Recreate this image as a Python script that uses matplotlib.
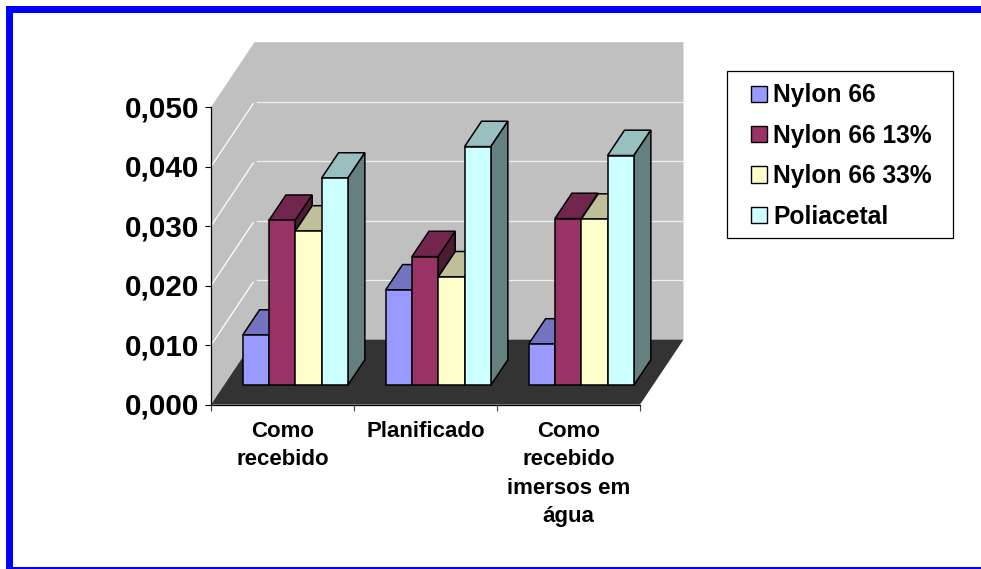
import matplotlib
matplotlib.use('Agg')
import matplotlib.pyplot as plt
from matplotlib.patches import Polygon, Rectangle, Patch
from matplotlib.ticker import FuncFormatter
from matplotlib.transforms import ScaledTranslation

W, H = 981, 569

categorias = ['Como\nrecebido', 'Planificado', 'Como\nrecebido\nimersos em\nágua']
nylon66 = [0.0084, 0.0160, 0.0069]
nylon66_13 = [0.0277, 0.0216, 0.0280]
nylon66_33 = [0.0259, 0.0182, 0.0279]
poliacetal = [0.0348, 0.0401, 0.0386]
series = [nylon66, nylon66_13, nylon66_33, poliacetal]
nomes = ['Nylon 66', 'Nylon 66 13%', 'Nylon 66 33%', 'Poliacetal']
cores = ['#9999FF', '#993366', '#FFFFCC', '#CCFFFF']
yticks = [0.0, 0.01, 0.02, 0.03, 0.04, 0.05]

plt.rcParams['font.family'] = ['Liberation Sans', 'DejaVu Sans']
plt.rcParams['font.weight'] = 'bold'


def shade(cor, f):
    rgb = matplotlib.colors.to_rgb(cor)
    return tuple(c * f for c in rgb)


def fig_rect(x0, y0, x1, y1, **kw):
    # rectangle given in pixels from the top left corner
    r = Rectangle((x0 / W, 1 - y1 / H), (x1 - x0) / W, (y1 - y0) / H,
                  transform=fig.transFigure, **kw)
    fig.add_artist(r)
    return r


fig = plt.figure(figsize=(W / 100, H / 100), dpi=100, facecolor='white')

# outer border, the right side runs off the figure
fig_rect(6, 6, W, 13, fc='#0000FF', ec='none')
fig_rect(6, 6, 13, 569, fc='#0000FF', ec='none')
fig_rect(6, 567, W, 569, fc='#0000FF', ec='none')

ax = fig.add_axes([211 / W, 1 - 404.6 / H, 429 / W, 297.4 / H])
ax.set_xlim(0, 3)
ax.set_ylim(0, 0.05)
ax.patch.set_visible(False)

# depth shift of the whole box, in data units
DX = 43.5 / 143
DY = 65 / 297.4 * 0.05


def proj(x, v, d):
    return (x + d * DX, v + d * DY)


def poly(pts, **kw):
    ax.add_patch(Polygon([proj(*p) for p in pts], closed=True, clip_on=False, **kw))


# walls as one outline so no seam shows at the corner, then the floor
poly([(0, 0, 0), (0, 0.05, 0), (0, 0.05, 1), (3, 0.05, 1), (3, 0, 1), (0, 0, 1)],
     fc='#C0C0C0', ec='none', zorder=1)
poly([(0, 0, 0), (3, 0, 0), (3, 0, 1), (0, 0, 1)], fc='#333333', ec='none', zorder=1)

for v in yticks[1:-1]:
    a, b = proj(0, v, 0), proj(0, v, 0.97)
    ax.plot([a[0], b[0]], [a[1], b[1]], color='white', lw=0.9, zorder=2, clip_on=False)
    a, b = proj(0.015, v, 1), proj(3, v, 1)
    ax.plot([a[0], b[0]], [a[1], b[1]], color='#F0F0F0', lw=0.9, zorder=2, clip_on=False)

# bars, left to right so each one covers the side of the previous
larg = 0.184
folga = 0.130
d0, d1 = 0.30, 0.69
z = 3
for i in range(len(categorias)):
    for j, s in enumerate(series):
        v = s[i]
        x0 = i + folga + j * larg
        x1 = x0 + larg
        estilo = dict(ec='black', lw=1.1, joinstyle='miter')
        poly([(x0, v, d0), (x1, v, d0), (x1, v, d1), (x0, v, d1)],
             fc=shade(cores[j], 0.75), zorder=z, **estilo)
        poly([(x1, 0, d0), (x1, v, d0), (x1, v, d1), (x1, 0, d1)],
             fc=shade(cores[j], 0.5), zorder=z, **estilo)
        poly([(x0, 0, d0), (x1, 0, d0), (x1, v, d0), (x0, v, d0)],
             fc=cores[j], zorder=z, **estilo)
        z += 1

# axes
for lado in ['top', 'right']:
    ax.spines[lado].set_visible(False)
for lado in ['left', 'bottom']:
    ax.spines[lado].set_linewidth(0.9)
    ax.spines[lado].set_zorder(50)

ax.set_yticks(yticks)
ax.yaxis.set_major_formatter(FuncFormatter(lambda v, p: f'{v:.3f}'.replace('.', ',')))
ax.tick_params(axis='y', length=4.3, width=0.8, pad=4.2, labelsize=21.3)
# nudge the value labels up a pixel
for rot in ax.get_yticklabels():
    rot.set_transform(rot.get_transform() + ScaledTranslation(0, 1 / 100, fig.dpi_scale_trans))
ax.set_xticks([0, 1, 2, 3])
ax.set_xticklabels([])
ax.tick_params(axis='x', which='major', length=4.3, width=0.8, color='#404040')
ax.set_xticks([0.5, 1.5, 2.5], minor=True)
ax.set_xticklabels(categorias, minor=True, fontsize=16, linespacing=1.47)
ax.tick_params(axis='x', which='minor', length=0, pad=11.5)

# legend
fig_rect(727, 71, 953, 238, fc='white', ec='black', lw=0.9)
handles = [Patch(fc=c, ec='black', lw=1.0) for c in cores]
leg = fig.legend(handles, nomes, loc='upper left',
                 bbox_to_anchor=(744 / W, 1 - 76 / H), frameon=False,
                 fontsize=17.7, handlelength=0.65, handleheight=0.65,
                 handletextpad=0.24, labelspacing=0.67, borderpad=0.3, borderaxespad=0)

fig.savefig('out.png', dpi=100)
